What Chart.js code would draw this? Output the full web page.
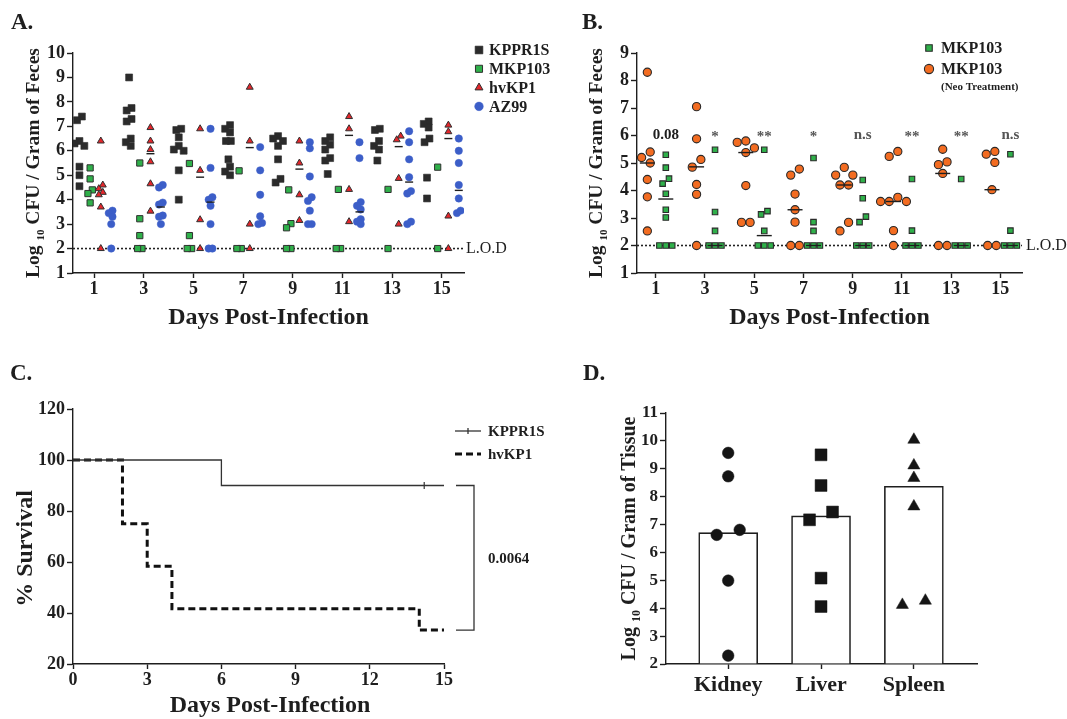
<!DOCTYPE html>
<html>
<head>
<meta charset="utf-8">
<title>Fecal, survival and tissue burden</title>
<script src="https://cdn.jsdelivr.net/npm/chart.js@4.4.1/dist/chart.umd.min.js"></script>
<style>
  html, body { margin: 0; padding: 0; background: #fff; }
  #figure { position: relative; width: 1067px; height: 719px; overflow: hidden; background: #fff; }
  #figure canvas { position: absolute; left: 0; top: 0; }
</style>
</head>
<body>
<div id="figure">
  <canvas id="panelA" width="1067" height="719"></canvas>
  <canvas id="panelB" width="1067" height="719"></canvas>
  <canvas id="panelC" width="1067" height="719"></canvas>
  <canvas id="panelD" width="1067" height="719"></canvas>
</div>
<script>
// ---------------- Panel A: fecal burden, four strains ----------------
const daysA = [1, 3, 5, 7, 9, 11, 13, 15];
const kppr1sA = [
  [7.4, 7.25, 6.4, 6.3, 6.2, 5.35, 5.0, 4.55],
  [9.0, 7.75, 7.65, 7.3, 7.2, 6.5, 6.35, 6.2],
  [6.9, 6.85, 6.55, 6.2, 6.05, 6.0, 5.2, 4.0],
  [7.05, 6.9, 6.75, 6.4, 6.4, 5.65, 5.35, 5.15, 5.0],
  [6.6, 6.5, 6.4, 6.2, 5.65, 4.85, 4.7],
  [6.55, 6.4, 6.25, 6.05, 5.7, 5.6, 5.05],
  [6.9, 6.85, 6.4, 6.2, 6.05, 5.6],
  [7.2, 7.1, 6.95, 6.5, 6.35, 4.9, 4.05]
];
const mkp103A = [
  [5.3, 4.85, 4.4, 4.25, 3.87],
  [5.5, 3.22, 2.53, 2.0, 2.0],
  [5.48, 2.53, 2.0, 2.0],
  [5.18, 2.0, 2.0],
  [4.4, 3.02, 2.85, 2.0, 2.0],
  [4.42, 2.0, 2.0],
  [4.42, 2.0],
  [5.33, 2.0]
];
const hvkp1A = [
  [6.4, 4.6, 4.45, 4.3, 4.2, 3.7, 2.0],
  [6.95, 6.4, 6.05, 5.55, 4.65, 3.53],
  [6.9, 5.2, 3.18, 2.0],
  [8.6, 6.4, 3.0, 2.0],
  [6.4, 5.5, 4.2, 3.15],
  [7.4, 6.9, 4.42, 3.1],
  [6.6, 6.45, 4.87, 3.0],
  [7.05, 6.78, 3.33, 2.0]
];
const az99A = [
  [3.55, 3.45, 3.3, 3.0, 2.0],
  [4.6, 4.5, 3.88, 3.8, 3.35, 3.3, 3.0],
  [6.9, 5.3, 4.1, 4.0, 3.75, 3.0, 2.0, 2.0],
  [6.15, 5.2, 4.2, 3.32, 3.05, 3.0],
  [6.35, 6.1, 4.95, 4.1, 3.95, 3.55, 3.0, 3.0],
  [6.35, 5.7, 3.9, 3.75, 3.6, 3.2, 3.1, 3.0],
  [6.8, 6.35, 5.65, 4.92, 4.35, 4.25, 3.1, 3.0],
  [6.5, 6.0, 5.5, 4.6, 4.05, 3.55, 3.45]
];
const hvkp1MedianA = [null, 5.88, 4.92, 6.13, 5.25, 6.63, 6.17, 6.5];
const az99MedianA = [null, 3.7, 3.9, null, null, 3.5, 4.72, 4.38];
const strainNamesA = ['KPPR1S', 'MKP103', 'hvKP1', 'AZ99'];
const LOD = 2; // limit of detection, log10 CFU

// ---------------- Panel B: MKP103 with / without neomycin ----------------
const daysB = [1, 3, 5, 7, 9, 11, 13, 15];
const neoB = [
  [8.3, 5.4, 5.2, 5.0, 4.4, 3.77, 2.53],
  [7.05, 5.88, 5.13, 4.85, 4.22, 3.86, 2.0],
  [5.8, 5.75, 5.55, 5.38, 4.18, 2.84, 2.84],
  [4.78, 4.56, 3.87, 3.3, 2.85, 2.0, 2.0],
  [4.84, 4.56, 4.56, 4.2, 4.2, 2.84, 2.53],
  [5.42, 5.24, 3.75, 3.6, 3.6, 3.6, 2.54, 2.0],
  [5.5, 5.04, 4.94, 4.62, 2.0, 2.0],
  [5.42, 5.32, 5.02, 4.03, 2.0, 2.0]
];
const neoMedianB = [5.0, 4.86, 5.38, 3.3, 4.2, 3.6, 4.62, 4.03];
const mkp103B = [
  [5.3, 4.83, 4.43, 4.25, 3.88, 3.3, 3.02, 2.0, 2.0, 2.0],
  [5.48, 3.22, 2.53, 2.0, 2.0, 2.0],
  [5.48, 3.25, 3.13, 2.53, 2.0, 2.0, 2.0],
  [5.18, 2.85, 2.53, 2.0, 2.0, 2.0],
  [4.38, 3.72, 3.05, 2.85, 2.0, 2.0, 2.0],
  [4.42, 2.54, 2.0, 2.0, 2.0],
  [4.42, 2.0, 2.0, 2.0],
  [5.32, 2.54, 2.0, 2.0, 2.0]
];
const mkp103MedianB = [3.69, 2.0, 2.36, 2.0, 2.0, 2.0, 2.0, 2.0];
const significanceB = ['0.08', '*', '**', '*', 'n.s', '**', '**', 'n.s'];

// ---------------- Panel C: survival ----------------
const kppr1sDaysC = [0, 6, 15];
const kppr1sSurvivalC = [100, 90, 90];
const kppr1sCensoredC = [14.2];
const hvkp1DaysC = [0, 2, 3, 4, 14, 15];
const hvkp1SurvivalC = [100, 75, 58.3, 41.7, 33.3, 33.3];
const pValueC = '0.0064';

// ---------------- Panel D: tissue burden ----------------
const organsD = ['Kidney', 'Liver', 'Spleen'];
const kidneyD = [9.57, 8.73, 6.63, 6.81, 4.99, 2.3];
const liverD = [9.5, 8.4, 7.17, 7.45, 5.08, 4.06];
const spleenD = [10.04, 9.12, 8.67, 7.65, 4.12, 4.27];
const meanD = [6.71, 7.31, 8.37];

// ---------------- shared styling ----------------
const SERIF = '"Liberation Serif", "Times New Roman", Times, serif';
const INK = '#1e1e1e';
const W = 1067, H = 719;

// plot rectangles (page pixels) and axis ranges
const frameA = { l: 73, t: 53, r: 464, b: 273, xMin: 0.15, xMax: 15.9, yMin: 1, yMax: 10 };
const frameB = { l: 637, t: 53, r: 1022, b: 273, xMin: 0.24, xMax: 15.88, yMin: 1, yMax: 9 };
const frameC = { l: 73, t: 409, r: 444, b: 664, xMin: 0, xMax: 15, yMin: 20, yMax: 120 };
const frameD = { l: 666, t: 413, r: 977, b: 664, xMin: 0.33, xMax: 3.68, yMin: 2, yMax: 11 };

const pxPerX = f => (f.r - f.l) / (f.xMax - f.xMin);
const pxPerY = f => (f.b - f.t) / (f.yMax - f.yMin);

function layoutPadding(f, yW, xH) {
  return { left: f.l - yW, top: f.t, right: W - f.r, bottom: H - f.b - xH };
}

function axes(f, o) {
  return {
    x: {
      type: 'linear', min: f.xMin, max: f.xMax, offset: false,
      afterFit: s => { s.height = o.xH; },
      afterBuildTicks: s => { s.ticks = o.xTicks.map(v => ({ value: v })); },
      grid: { offset: false, drawOnChartArea: false, drawTicks: true, tickLength: 5, tickColor: INK, tickWidth: 1.4 },
      border: { display: true, color: INK, width: 1.4 },
      ticks: {
        color: INK, padding: o.xPad || 1, autoSkip: false, maxRotation: 0,
        font: { family: SERIF, weight: 'bold', size: o.xFont },
        callback: o.xLabel || (v => String(v))
      }
    },
    y: {
      type: 'linear', min: f.yMin, max: f.yMax,
      afterFit: s => { s.width = o.yW; },
      grid: { drawOnChartArea: false, drawTicks: true, tickLength: 6, tickColor: INK, tickWidth: 1.4 },
      border: { display: true, color: INK, width: 1.4 },
      ticks: {
        color: INK, padding: 2, stepSize: o.yStep, autoSkip: false,
        font: { family: SERIF, weight: 'bold', size: o.yFont }
      }
    }
  };
}

function baseOptions(f, o) {
  return {
    responsive: false, animation: false, events: [],
    layout: { padding: layoutPadding(f, o.yW, o.xH) },
    plugins: { legend: { display: false }, tooltip: { enabled: false } },
    scales: axes(f, o)
  };
}

// spread markers that would sit on top of one another, beeswarm style
function swarmOffsets(vals, xGap, yGap, pxX, pxY) {
  const order = vals.map((_, i) => i).sort((a, b) => vals[b] - vals[a]);
  const placed = [];
  const off = vals.map(() => 0);
  for (const i of order) {
    const y = vals[i] * pxY;
    for (let k = 0; k < 40; k++) {
      const c = (k === 0 ? 0 : (k % 2 ? -1 : 1) * Math.ceil(k / 2)) * xGap;
      const hit = placed.some(p => Math.abs(p.x - c) < xGap - 1e-6 && Math.abs(p.y - y) < yGap);
      if (!hit) { off[i] = c; placed.push({ x: c, y, i }); break; }
    }
  }
  placed.sort((a, b) => b.y - a.y);
  let run = [];
  const flush = () => {
    if (run.length) {
      const m = run.reduce((s, p) => s + p.x, 0) / run.length;
      run.forEach(p => { off[p.i] = p.x - m; });
    }
    run = [];
  };
  placed.forEach(p => {
    if (run.length && (run[run.length - 1].y - p.y) >= yGap) flush();
    run.push(p);
  });
  flush();
  return off.map(v => v / pxX);
}

function groupPoints(days, groups, shift, f, xGap, yGap) {
  const pts = [];
  groups.forEach((vals, i) => {
    const offs = swarmOffsets(vals, xGap, yGap, pxPerX(f), pxPerY(f));
    vals.forEach((v, j) => pts.push({ x: days[i] + shift + offs[j], y: v }));
  });
  return pts;
}

function medianPoints(days, meds, shift) {
  const pts = [];
  meds.forEach((m, i) => { if (m !== null) pts.push({ x: days[i] + shift, y: m }); });
  return pts;
}

function text(ctx, str, x, y, o = {}) {
  ctx.save();
  ctx.font = `${o.weight || 'bold'} ${o.size || 16}px ${SERIF}`;
  ctx.fillStyle = o.color || INK;
  ctx.textAlign = o.align || 'center';
  ctx.textBaseline = o.baseline || 'middle';
  ctx.translate(x, y);
  if (o.rotate) ctx.rotate(o.rotate);
  ctx.fillText(str, 0, 0);
  ctx.restore();
}

// vertical "Log10 CFU / ..." title with a subscript 10
function logTitle(ctx, tail, cx, cy, size) {
  ctx.save();
  ctx.translate(cx, cy);
  ctx.rotate(-Math.PI / 2);
  const big = `bold ${size}px ${SERIF}`;
  const small = `bold ${Math.round(size * 0.58)}px ${SERIF}`;
  ctx.font = big;
  const w1 = ctx.measureText('Log ').width;
  const w3 = ctx.measureText(' ' + tail).width;
  ctx.font = small;
  const w2 = ctx.measureText('10').width;
  let x = -(w1 + w2 + w3) / 2;
  const base = size * 0.34;
  ctx.fillStyle = INK;
  ctx.textAlign = 'left';
  ctx.textBaseline = 'alphabetic';
  ctx.font = big; ctx.fillText('Log ', x, base); x += w1;
  ctx.font = small; ctx.fillText('10', x, base + size * 0.28); x += w2;
  ctx.font = big; ctx.fillText(' ' + tail, x, base);
  ctx.restore();
}

function legendMarker(ctx, style, x, y) {
  ctx.save();
  ctx.fillStyle = style.bg;
  ctx.strokeStyle = style.border;
  ctx.lineWidth = style.bw;
  Chart.helpers.drawPoint(ctx, { pointStyle: style.shape, radius: style.r, rotation: 0, borderWidth: style.bw }, x, y);
  ctx.restore();
}

function dottedLine(f) {
  return {
    type: 'scatter', showLine: true, data: [{ x: f.xMin, y: LOD }, { x: f.xMax, y: LOD }],
    borderColor: '#222', borderWidth: 1.6, borderDash: [2, 2], pointRadius: 0, clip: false
  };
}

// ---------------- Panel A ----------------
const shiftsA = [-0.59, -0.16, 0.27, 0.69];
const stylesA = [
  { shape: 'rect', r: 4.9, bg: '#2b2b2b', border: '#2b2b2b', bw: 0.6 },
  { shape: 'rect', r: 4.4, bg: '#2fb04a', border: '#303030', bw: 1 },
  { shape: 'triangle', r: 4.0, bg: '#e3262b', border: '#303030', bw: 1 },
  { shape: 'circle', r: 3.7, bg: '#3c5ec8', border: '#3c5ec8', bw: 0.5 }
];
const groupsA = [kppr1sA, mkp103A, hvkp1A, az99A];

const datasetsA = [
  {
    data: medianPoints(daysA, hvkp1MedianA, shiftsA[2]).concat(medianPoints(daysA, az99MedianA, shiftsA[3])),
    pointStyle: 'line', pointRadius: 4, borderColor: INK, borderWidth: 1.4, backgroundColor: INK
  }
];
groupsA.forEach((g, k) => {
  const s = stylesA[k];
  datasetsA.push({
    label: strainNamesA[k],
    data: groupPoints(daysA, g, shiftsA[k], frameA, s.r * 1.0, s.r * 1.0),
    pointStyle: s.shape, pointRadius: s.r, backgroundColor: s.bg, borderColor: s.border, borderWidth: s.bw
  });
});
datasetsA.push(dottedLine(frameA));

new Chart(document.getElementById('panelA'), {
  type: 'scatter',
  data: { datasets: datasetsA },
  options: baseOptions(frameA, { yW: 40, xH: 30, xTicks: daysA, yStep: 1, xFont: 18, yFont: 18 }),
  plugins: [{
    id: 'panelAText',
    afterDraw(chart) {
      const ctx = chart.ctx, ca = chart.chartArea, y = chart.scales.y;
      text(ctx, 'A.', 11, 29, { size: 23, align: 'left', baseline: 'alphabetic' });
      logTitle(ctx, 'CFU / Gram of Feces', ca.left - 41, (ca.top + ca.bottom) / 2, 19.5);
      text(ctx, 'Days Post-Infection', (ca.left + ca.right) / 2, ca.bottom + 45, { size: 24 });
      text(ctx, 'L.O.D', ca.right + 2, y.getPixelForValue(LOD), { size: 16, weight: 'normal', align: 'left' });
      strainNamesA.forEach((name, k) => {
        const ly = 50 + k * 18.8;
        const s = stylesA[k];
        legendMarker(ctx, { ...s, r: s.r + 0.6 }, 479, ly);
        text(ctx, name, 489, ly + 1, { size: 16, align: 'left' });
      });
    }
  }]
});

// ---------------- Panel B ----------------
const shiftNeoB = -0.34, shiftMkpB = 0.41;
const neoStyle = { shape: 'circle', r: 4.1, bg: '#f36c21', border: '#2a2a2a', bw: 1.1 };
const mkpStyle = { shape: 'rect', r: 3.9, bg: '#2fb04a', border: '#2a2a2a', bw: 1.1 };

new Chart(document.getElementById('panelB'), {
  type: 'scatter',
  data: {
    datasets: [
      {
        data: medianPoints(daysB, neoMedianB, shiftNeoB).concat(medianPoints(daysB, mkp103MedianB, shiftMkpB)),
        pointStyle: 'line', pointRadius: 7.5, borderColor: INK, borderWidth: 1.4, backgroundColor: INK
      },
      {
        label: 'MKP103 (Neo Treatment)', data: groupPoints(daysB, neoB, shiftNeoB, frameB, 8.6, 8.6),
        pointStyle: neoStyle.shape, pointRadius: neoStyle.r, backgroundColor: neoStyle.bg,
        borderColor: neoStyle.border, borderWidth: neoStyle.bw
      },
      {
        label: 'MKP103', data: groupPoints(daysB, mkp103B, shiftMkpB, frameB, 6.4, 6.4),
        pointStyle: mkpStyle.shape, pointRadius: mkpStyle.r, backgroundColor: mkpStyle.bg,
        borderColor: mkpStyle.border, borderWidth: mkpStyle.bw
      },
      dottedLine(frameB)
    ]
  },
  options: baseOptions(frameB, { yW: 40, xH: 30, xTicks: daysB, yStep: 1, xFont: 18, yFont: 18 }),
  plugins: [{
    id: 'panelBText',
    afterDraw(chart) {
      const ctx = chart.ctx, ca = chart.chartArea, x = chart.scales.x, y = chart.scales.y;
      text(ctx, 'B.', 582, 29, { size: 23, align: 'left', baseline: 'alphabetic' });
      logTitle(ctx, 'CFU / Gram of Feces', ca.left - 42, (ca.top + ca.bottom) / 2, 19.5);
      text(ctx, 'Days Post-Infection', (ca.left + ca.right) / 2, ca.bottom + 45, { size: 24 });
      text(ctx, 'L.O.D', ca.right + 4, y.getPixelForValue(LOD), { size: 16, weight: 'normal', align: 'left' });
      significanceB.forEach((s, i) => {
        const px = x.getPixelForValue(daysB[i] + shiftMkpB);
        const isNum = /\d/.test(s);
        text(ctx, s, px, y.getPixelForValue(6.0) + (s.includes('*') ? 2 : 0),
          { size: 15, color: isNum ? INK : '#555' });
      });
      legendMarker(ctx, { ...mkpStyle, r: 4.6 }, 929, 48);
      text(ctx, 'MKP103', 941, 49, { size: 16, align: 'left' });
      legendMarker(ctx, { ...neoStyle, r: 4.6 }, 929, 69);
      text(ctx, 'MKP103', 941, 70, { size: 16, align: 'left' });
      text(ctx, '(Neo Treatment)', 941, 87, { size: 11, align: 'left' });
    }
  }]
});

// ---------------- Panel C ----------------
const toXY = (xs, ys) => xs.map((v, i) => ({ x: v, y: ys[i] }));

new Chart(document.getElementById('panelC'), {
  type: 'scatter',
  data: {
    datasets: [
      {
        label: 'KPPR1S', data: toXY(kppr1sDaysC, kppr1sSurvivalC), showLine: true, stepped: 'before',
        borderColor: '#333', borderWidth: 1.3, pointRadius: 0, clip: false
      },
      {
        data: kppr1sCensoredC.map(d => ({ x: d, y: kppr1sSurvivalC[kppr1sSurvivalC.length - 1] })),
        pointStyle: 'line', pointRotation: 90, pointRadius: 3.5, borderColor: '#333', borderWidth: 1.2
      },
      {
        label: 'hvKP1', data: toXY(hvkp1DaysC, hvkp1SurvivalC), showLine: true, stepped: 'before',
        borderColor: '#111', borderWidth: 3, borderDash: [7, 4], pointRadius: 0, clip: false
      }
    ]
  },
  options: baseOptions(frameC, { yW: 40, xH: 28, xTicks: [0, 3, 6, 9, 12, 15], yStep: 20, xFont: 18, yFont: 18, xPad: 0 }),
  plugins: [{
    id: 'panelCText',
    afterDraw(chart) {
      const ctx = chart.ctx, ca = chart.chartArea, y = chart.scales.y;
      text(ctx, 'C.', 10, 380, { size: 23, align: 'left', baseline: 'alphabetic' });
      text(ctx, '% Survival', 26, (ca.top + ca.bottom) / 2 + 12, { size: 24, rotate: -Math.PI / 2 });
      text(ctx, 'Days Post-Infection', 270, ca.bottom + 42, { size: 24 });
      // legend
      ctx.save();
      ctx.strokeStyle = '#333'; ctx.lineWidth = 1.3;
      ctx.beginPath(); ctx.moveTo(455, 431); ctx.lineTo(481, 431); ctx.stroke();
      ctx.beginPath(); ctx.moveTo(468, 428); ctx.lineTo(468, 434); ctx.stroke();
      ctx.strokeStyle = '#111'; ctx.lineWidth = 3; ctx.setLineDash([7, 4]);
      ctx.beginPath(); ctx.moveTo(455, 454); ctx.lineTo(481, 454); ctx.stroke();
      ctx.restore();
      text(ctx, 'KPPR1S', 488, 432, { size: 15, align: 'left' });
      text(ctx, 'hvKP1', 488, 455, { size: 15, align: 'left' });
      // comparison bracket between the two final survival levels
      const yTop = y.getPixelForValue(kppr1sSurvivalC[kppr1sSurvivalC.length - 1]);
      const yBot = y.getPixelForValue(hvkp1SurvivalC[hvkp1SurvivalC.length - 1]);
      ctx.save();
      ctx.strokeStyle = '#333'; ctx.lineWidth = 1.3;
      ctx.beginPath();
      ctx.moveTo(ca.right + 12, yTop); ctx.lineTo(ca.right + 30, yTop);
      ctx.lineTo(ca.right + 30, yBot); ctx.lineTo(ca.right + 12, yBot);
      ctx.stroke();
      ctx.restore();
      text(ctx, pValueC, ca.right + 44, (yTop + yBot) / 2 + 1, { size: 15, align: 'left' });
    }
  }]
});

// ---------------- Panel D ----------------
const organIndex = [1, 2, 3];
const markerD = [
  { shape: 'circle', r: 5.8 },
  { shape: 'rect', r: 8.4 },
  { shape: 'triangle', r: 7.0 }
];
const tissueD = [kidneyD, liverD, spleenD];

const datasetsD = [];
tissueD.forEach((vals, k) => {
  const offs = swarmOffsets(vals, 23, 12, pxPerX(frameD), pxPerY(frameD));
  datasetsD.push({
    type: 'scatter', label: organsD[k],
    data: vals.map((v, j) => ({ x: organIndex[k] + offs[j], y: v })),
    pointStyle: markerD[k].shape, pointRadius: markerD[k].r,
    backgroundColor: '#151515', borderColor: '#151515', borderWidth: 0.5
  });
});
datasetsD.push({
  type: 'bar', label: 'mean', data: organIndex.map((v, i) => ({ x: v, y: meanD[i] })),
  backgroundColor: '#ffffff', borderColor: INK, borderWidth: 1.6, barThickness: 59, base: 2
});

new Chart(document.getElementById('panelD'), {
  type: 'bar',
  data: { datasets: datasetsD },
  options: baseOptions(frameD, {
    yW: 40, xH: 34, xTicks: organIndex, yStep: 1, xFont: 22, yFont: 17, xPad: 3,
    xLabel: v => organsD[v - 1]
  }),
  plugins: [{
    id: 'panelDText',
    afterDraw(chart) {
      const ctx = chart.ctx, ca = chart.chartArea;
      text(ctx, 'D.', 583, 380, { size: 23, align: 'left', baseline: 'alphabetic' });
      logTitle(ctx, 'CFU / Gram of Tissue', ca.left - 38, (ca.top + ca.bottom) / 2, 20);
    }
  }]
});
</script>
</body>
</html>
